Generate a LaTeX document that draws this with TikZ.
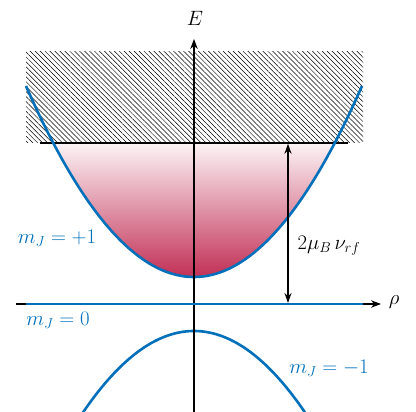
\documentclass[tikz,border=0pt]{standalone}
\usetikzlibrary{arrows.meta,patterns.meta}
\definecolor{lvlblue}{RGB}{0,112,186}
\definecolor{crim}{RGB}{194,48,86}
\definecolor{pinktop}{RGB}{252,244,246}
\tikzset{
  level/.style={draw=lvlblue, line width=2.6pt},
  axis/.style={draw=black, line width=1.4pt, -{Stealth[length=10pt,width=7.5pt]}},
  lbl/.style={font=\fontsize{21}{25}\selectfont, inner sep=0pt},
  bluelbl/.style={lbl, text=lvlblue},
  gap/.style={draw=black, line width=1.4pt, {Stealth[length=10pt,width=7pt]}-{Stealth[length=10pt,width=7pt]}},
}
\begin{document}
\begin{tikzpicture}[x=1pt,y=-1pt]
\useasboundingbox (0,0) rectangle (416,412);
% shaded trapped region
\begin{scope}
  \clip (20,143) rectangle (370,290);
  \shade[top color=pinktop, bottom color=crim]
    (26,143) -- plot[domain=-141:141, samples=120] ({194+\x},{277-191*(\x/168)^2}) -- cycle;
\end{scope}
% hatched continuum
\fill[pattern={Lines[angle=-45, distance=3.5pt, line width=0.5pt]}] (26,52) rectangle (363,143);
\coordinate (hl) at (40,143);
\coordinate (hr) at (348,143);
\draw[line width=1.4pt] (hl) -- (hr);
% levels
\draw[level] plot[domain=-168:168, samples=120] ({194+\x},{277-191*(\x/168)^2});
\begin{scope}
  \clip (0,0) rectangle (416,412);
  \draw[level] plot[domain=-116:116, samples=120] ({194+\x},{331+80*(\x/110)^2});
\end{scope}
% axes
\coordinate (yb) at (194,412);
\coordinate (yt) at (194,39);
\coordinate (xl) at (16,304);
\coordinate (xr) at (381,304);
\draw[axis] (yb) -- (yt);
\draw[axis] (xl) -- (xr);
\coordinate (zl) at (26,304);
\coordinate (zr) at (363,304);
\draw[level] (zl) -- (zr);
% gap arrow
\coordinate (ga) at (288,143.7);
\coordinate (gb) at (288,303);
\draw[gap] (ga) -- (gb);
% labels
\node[lbl] (E) at (195,18) {$E$};
\node[lbl] (rho) at (394,302) {$\rho$};
\node[lbl] (gapl) at (329,246) {$2\mu_B\,\nu_{rf}$};
\node[bluelbl] (mp) at (57,238) {$m_J=+1$};
\node[bluelbl] (m0) at (58,320) {$m_J=0$};
\node[bluelbl] (mm) at (329,368) {$m_J=-1$};
\end{tikzpicture}
\end{document}
